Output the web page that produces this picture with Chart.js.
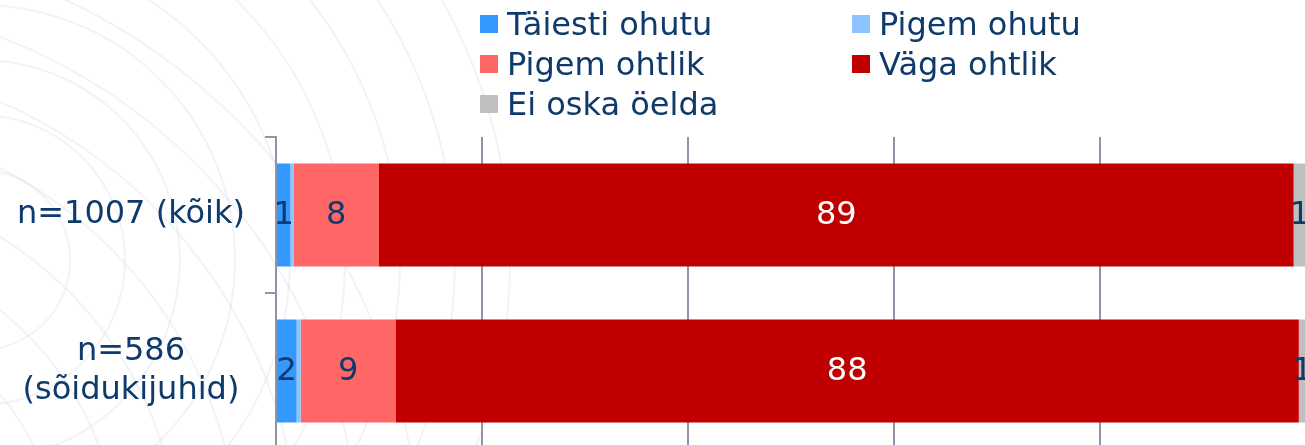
<!DOCTYPE html>
<html>
<head>
<meta charset="utf-8">
<script src="https://cdn.jsdelivr.net/npm/chart.js@4"></script>
<style>
    html, body { margin: 0; padding: 0; overflow: hidden; background: #fff; }
    #wrap { position: relative; width: 1320px; height: 449px; }
    #legend {
        position: absolute; left: 480px; top: 4px;
        display: grid; grid-template-columns: 372px 372px; grid-auto-rows: 40px;
        font-family: "DejaVu Sans", Verdana, sans-serif; font-size: 32px; color: #0E3A6C;
    }
    #legend div { display: flex; align-items: center; white-space: nowrap; }
    #legend span.box { width: 18px; height: 18px; margin-right: 9px; display: inline-block; }
</style>
</head>
<body>
<div id="wrap">
    <canvas id="chart" width="1320" height="449"></canvas>
    <div id="legend"></div>
</div>
<script>
// categories (y axis)
const categories = [['n=1007 (kõik)'], ['n=586', '(sõidukijuhid)']];

// series, % per category
const seriesNames = ['Täiesti ohutu', 'Pigem ohutu', 'Pigem ohtlik', 'Väga ohtlik', 'Ei oska öelda'];
const taiestiOhutu = [1.4, 2.0];
const pigemOhutu = [0.3, 0.4];
const pigemOhtlik = [8.3, 9.2];
const vagaOhtlik = [88.8, 87.7];
const eiOska = [1.2, 0.7];

const seriesColors = ['#3399FF', '#8DC4FF', '#FF6666', '#C00000', '#BFBFBF'];
const labelColors = ['#0E3A6C', '#0E3A6C', '#0E3A6C', '#FFFFFF', '#0E3A6C'];
const textColor = '#0E3A6C';
const axisColor = '#8E95A8';
const fontFamily = '"DejaVu Sans", Verdana, sans-serif';

const seriesValues = [taiestiOhutu, pigemOhutu, pigemOhtlik, vagaOhtlik, eiOska];

// faint globe-like watermark behind the chart
const watermark = {
    id: 'watermark',
    beforeDraw(chart) {
        const ctx = chart.ctx;
        ctx.save();
        ctx.strokeStyle = 'rgba(200, 208, 222, 0.25)';
        ctx.lineWidth = 2;
        for (let r = 90; r <= 560; r += 55) {
            ctx.beginPath();
            ctx.arc(-20, 260, r, 0, Math.PI * 2);
            ctx.stroke();
        }
        for (let r = 140; r <= 640; r += 60) {
            ctx.beginPath();
            ctx.arc(-200, 560, r, 0, Math.PI * 2);
            ctx.stroke();
        }
        ctx.restore();
    }
};

// value labels in the middle of each segment
const valueLabels = {
    id: 'valueLabels',
    afterDatasetsDraw(chart) {
        const ctx = chart.ctx;
        ctx.save();
        ctx.font = '32px ' + fontFamily;
        ctx.textAlign = 'center';
        ctx.textBaseline = 'middle';
        chart.data.datasets.forEach((ds, i) => {
            chart.getDatasetMeta(i).data.forEach((bar, j) => {
                const v = Math.round(ds.data[j]);
                if (v < 1) return;
                ctx.fillStyle = labelColors[i];
                ctx.fillText(String(v), (bar.x + bar.base) / 2, bar.y + 1);
            });
        });
        ctx.restore();
    }
};

new Chart(document.getElementById('chart').getContext('2d'), {
    type: 'bar',
    data: {
        labels: categories,
        datasets: seriesNames.map((name, i) => ({
            label: name,
            data: seriesValues[i],
            backgroundColor: seriesColors[i],
            borderWidth: 0,
            categoryPercentage: 1,
            barPercentage: 0.66
        }))
    },
    options: {
        indexAxis: 'y',
        responsive: false,
        animation: false,
        devicePixelRatio: 1,
        layout: { padding: { top: 137, right: 14, bottom: 0, left: 0 } },
        plugins: {
            legend: { display: false },
            tooltip: { enabled: false }
        },
        scales: {
            x: {
                stacked: true,
                min: 0,
                max: 100,
                ticks: { display: false, stepSize: 20 },
                grid: { color: axisColor, lineWidth: 2, drawTicks: false },
                border: { display: false },
                afterFit(scale) { scale.height = 0; }
            },
            y: {
                stacked: true,
                ticks: {
                    color: textColor,
                    font: { family: fontFamily, size: 32 },
                    crossAlign: 'center',
                    padding: 20,
                    autoSkip: false
                },
                grid: { drawOnChartArea: false, color: axisColor, lineWidth: 2, tickLength: 11 },
                border: { color: axisColor, width: 2 },
                afterFit(scale) {
                    scale.width = 276;
                    scale.paddingTop = 0;
                    scale.paddingBottom = 0;
                }
            }
        }
    },
    plugins: [watermark, valueLabels]
});

// html legend, two columns
const legend = document.getElementById('legend');
seriesNames.forEach((name, i) => {
    const item = document.createElement('div');
    item.innerHTML = '<span class="box" style="background:' + seriesColors[i] + '"></span>' + name;
    legend.appendChild(item);
});
</script>
</body>
</html>
